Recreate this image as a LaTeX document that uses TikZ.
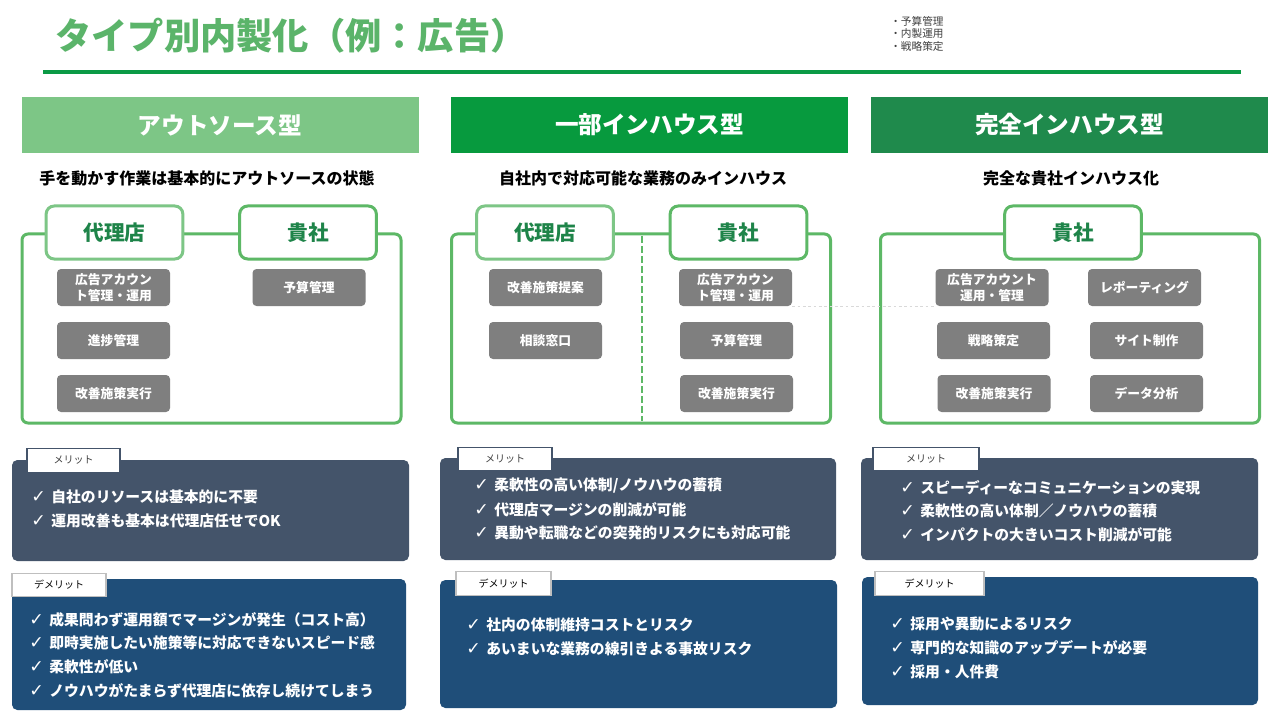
\documentclass[tikz,border=0pt]{standalone}
\usepackage{fontspec}
\setmainfont{Noto Sans CJK JP}
\newfontfamily\symfont{DejaVu Sans}
\definecolor{ttl}{HTML}{5BB46A}
\definecolor{uline}{HTML}{0B9A45}
\definecolor{hA}{HTML}{7DC686}
\definecolor{hB}{HTML}{079A3E}
\definecolor{hC}{HTML}{1F8A4C}
\definecolor{frm}{HTML}{5DB866}
\definecolor{lblA}{HTML}{7DC686}
\definecolor{lblB}{HTML}{5DB866}
\definecolor{lbltxt}{HTML}{1E8449}
\definecolor{gry}{HTML}{7F7F7F}
\definecolor{merit}{HTML}{44546A}
\definecolor{demerit}{HTML}{1F4E79}
\definecolor{tagB}{HTML}{BFBFBF}
\definecolor{faint}{HTML}{D9D9D9}
\definecolor{note}{HTML}{404040}
\newcommand\ck{{\symfont\bfseries\fontsize{13}{13}\selectfont ✓}\hspace{4.2pt}}
\begin{document}
\begin{tikzpicture}[x=0.75pt,y=-0.75pt,
  hdr/.style={rectangle, fill=#1, text=white, inner sep=0,
    font=\bfseries\fontsize{17.7}{20}\selectfont,
    minimum width=297.75pt, minimum height=42pt},
  frame/.style={draw=frm, line width=2.25pt, rounded corners=4.5pt, inner sep=0,
    minimum width=284.25pt, minimum height=141.75pt},
  lbl/.style={draw=#1, fill=white, line width=2.25pt, rounded corners=6pt, inner sep=0,
    minimum width=102.5pt, minimum height=39.75pt, text=lbltxt,
    font=\bfseries\fontsize{15.5}{18}\selectfont},
  gbox/.style={fill=gry, rounded corners=3pt, inner sep=0, align=center,
    minimum width=84.75pt, minimum height=27.75pt, text=white,
    font=\bfseries\fontsize{9.6}{12}\selectfont},
  mbox/.style={fill=#1, rounded corners=4pt, inner sep=0},
  tagbox/.style={draw=#1, fill=white, line width=0.9pt, inner sep=0,
    minimum height=17.5pt, font=\fontsize{7.5}{9}\selectfont},
  item/.style={anchor=west, text=white, inner sep=0,
    font=\bfseries\fontsize{11.1}{13}\selectfont},
  sub/.style={text=black, inner sep=0, font=\bfseries\fontsize{12}{14}\selectfont},
  divider/.style={draw=frm, line width=1.5pt, dash pattern=on 5pt off 2.5pt},
  faintline/.style={draw=faint, line width=0.6pt, dash pattern=on 2pt off 2pt}
]
\useasboundingbox (0,0) rectangle (1280,720);
\fill[white] (0,0) rectangle (1280,720);

% title
\node[anchor=west, inner sep=0, text=ttl, font=\bfseries\fontsize{27.2}{30}\selectfont] (title) at (55,36) {タイプ別内製化（例：広告）};
\node[anchor=north west, inner sep=0, text=note, align=left, font=\fontsize{8}{9.4}\selectfont] (notes) at (890,16) {・予算管理\\・内製運用\\・戦略策定};
\draw[line width=3pt, draw=uline] (43,72) -- (1241,72);

% headers
\node[hdr=hA] (h1) at (220,125) {アウトソース型};
\node[hdr=hB] (h2) at (649.5,125) {一部インハウス型};
\node[hdr=hC] (h3) at (1069.5,125) {完全インハウス型};

\node[sub] (s1) at (207,178) {手を動かす作業は基本的にアウトソースの状態};
\node[sub] (s2) at (643,178) {自社内で対応可能な業務のみインハウス};
\node[sub] (s3) at (1071,178) {完全な貴社インハウス化};

% frames
\node[frame] (f1) at (211.5,328.5) {};
\node[frame] (f2) at (641,328.5) {};
\node[frame] (f3) at (1070,328.5) {};
\draw[divider] (642,236) -- (642,421);

\node[lbl=lblA] (a1) at (114.5,232.5) {代理店};
\node[lbl=lblB] (k1) at (308,232.5) {貴社};
\node[lbl=lblA] (a2) at (545,232.5) {代理店};
\node[lbl=lblB] (k2) at (738.5,232.5) {貴社};
\node[lbl=lblB] (k3) at (1073,232.5) {貴社};

% column 1 tasks
\node[gbox] (c1a) at (113.5,287.5) {広告アカウン\\ト管理・運用};
\node[gbox] (c1b) at (113.5,340.5) {進捗管理};
\node[gbox] (c1c) at (113.5,393.5) {改善施策実行};
\node[gbox] (c1d) at (309,287.5) {予算管理};

% column 2 tasks
\node[gbox] (c2a) at (545.5,287.5) {改善施策提案};
\node[gbox] (c2b) at (545.5,340.5) {相談窓口};
\node[gbox] (c2c) at (735.5,287.5) {広告アカウン\\ト管理・運用};
\node[gbox] (c2d) at (736.5,340.5) {予算管理};
\node[gbox] (c2e) at (736.5,393.5) {改善施策実行};

% column 3 tasks
\node[gbox] (c3a) at (992,287.5) {広告アカウント\\運用・管理};
\node[gbox] (c3b) at (1144.5,287.5) {レポーティング};
\node[gbox] (c3c) at (993.5,340.5) {戦略策定};
\node[gbox] (c3d) at (1146.5,340.5) {サイト制作};
\node[gbox] (c3e) at (994,393.5) {改善施策実行};
\node[gbox] (c3f) at (1146.5,393.5) {データ分析};

\draw[faintline] (c2c.south east) -- (c3a.south west);

% merit / demerit column 1
\node[mbox=merit, minimum width=297.75pt, minimum height=75.75pt] (m1) at (210.5,510.5) {};
\node[tagbox=merit, minimum width=69.75pt, text=note] (t1) at (73.5,460.5) {メリット};
\node[item] (m1i1) at (31,497) {\ck 自社のリソースは基本的に不要};
\node[item] (m1i2) at (31,521) {\ck 運用改善も基本は代理店任せでOK};

\node[mbox=demerit, minimum width=295.5pt, minimum height=98.25pt] (d1) at (209,644.5) {};
\node[tagbox=tagB, minimum width=70.5pt, text=black] (u1) at (59,585) {デメリット};
\node[item] (d1i1) at (29,620) {\ck 成果問わず運用額でマージンが発生（コスト高）};
\node[item] (d1i2) at (29,643) {\ck 即時実施したい施策等に対応できないスピード感};
\node[item] (d1i3) at (29,667) {\ck 柔軟性が低い};
\node[item] (d1i4) at (29,691) {\ck ノウハウがたまらず代理店に依存し続けてしまう};

% column 2
\node[mbox=merit, minimum width=297pt, minimum height=76.5pt] (m2) at (638,509) {};
\node[tagbox=merit, minimum width=70.5pt, text=note] (t2) at (505,459) {メリット};
\node[item] (m2i1) at (474,486) {\ck 柔軟性の高い体制/ノウハウの蓄積};
\node[item] (m2i2) at (474,510) {\ck 代理店マージンの削減が可能};
\node[item] (m2i3) at (474,533) {\ck 異動や転職などの突発的リスクにも対応可能};

\node[mbox=demerit, minimum width=297.75pt, minimum height=96pt] (d2) at (638.5,644) {};
\node[tagbox=tagB, minimum width=71.25pt, text=black] (u2) at (503.5,583.5) {デメリット};
\node[item] (d2i1) at (466,625) {\ck 社内の体制維持コストとリスク};
\node[item] (d2i2) at (466,649) {\ck あいまいな業務の線引きよる事故リスク};

% column 3
\node[mbox=merit, minimum width=297.75pt, minimum height=76.5pt] (m3) at (1059.5,509) {};
\node[tagbox=merit, minimum width=79.5pt, text=note] (t3) at (926,459) {メリット};
\node[item] (m3i1) at (900,488) {\ck スピーディーなコミュニケーションの実現};
\node[item] (m3i2) at (900,511) {\ck 柔軟性の高い体制／ノウハウの蓄積};
\node[item] (m3i3) at (900,535) {\ck インパクトの大きいコスト削減が可能};

\node[mbox=demerit, minimum width=297pt, minimum height=96pt] (d3) at (1060,641) {};
\node[tagbox=tagB, minimum width=81.75pt, text=black] (u3) at (929.5,583.5) {デメリット};
\node[item] (d3i1) at (890,624) {\ck 採用や異動によるリスク};
\node[item] (d3i2) at (890,648) {\ck 専門的な知識のアップデートが必要};
\node[item] (d3i3) at (890,672) {\ck 採用・人件費};
\end{tikzpicture}
\end{document}
